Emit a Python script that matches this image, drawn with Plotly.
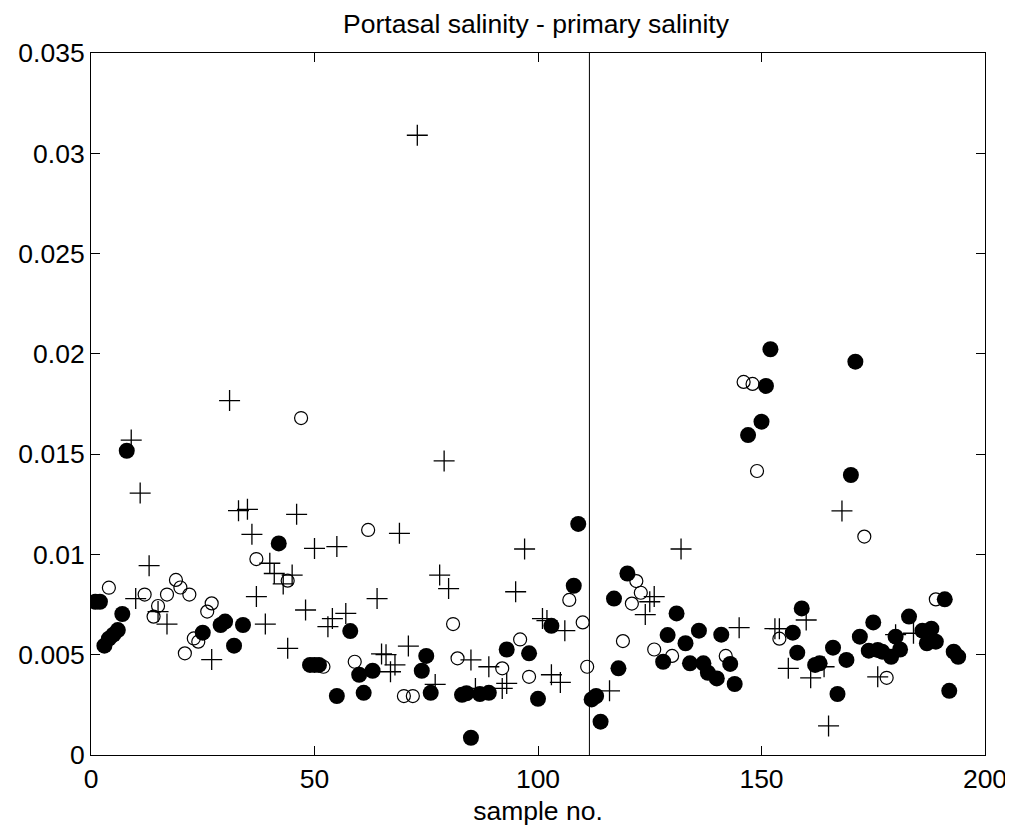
import plotly.graph_objects as go

# ---- data ----
filled_x = [1, 2, 3, 4, 5, 6, 7, 8, 25, 29, 30, 32, 34, 42, 49, 50, 51, 55, 58, 60, 61, 63,
            74, 75, 76, 83, 84, 85, 87, 89, 93, 98, 100, 103, 108, 109, 112, 113, 114, 117,
            118, 120, 128, 129, 131, 133, 134, 136, 137, 138, 140, 141, 143, 144, 147, 150,
            151, 152, 157, 158, 159, 162, 163, 166, 167, 169, 170, 171, 172, 174, 175, 176,
            177, 179, 180, 181, 183, 186, 187, 188, 189, 191, 192, 193, 194]
filled_y = [0.00764, 0.00764, 0.00545, 0.0058, 0.0060, 0.00623, 0.00703, 0.01517, 0.0061,
            0.00648, 0.00665, 0.00545, 0.00648, 0.01055, 0.00449, 0.00449, 0.00449, 0.00294,
            0.00618, 0.0040, 0.0031, 0.0042, 0.0042, 0.00494, 0.0031, 0.0030, 0.00308,
            0.00086, 0.00304, 0.0031, 0.00526, 0.00507, 0.0028, 0.00644, 0.00844, 0.01152,
            0.00277, 0.00294, 0.00166, 0.0078, 0.00432, 0.00905, 0.00465, 0.00598, 0.00706,
            0.00557, 0.00457, 0.0062, 0.00457, 0.0041, 0.00382, 0.0060, 0.00454, 0.00354,
            0.01595, 0.01662, 0.0184, 0.02023, 0.0061, 0.0051, 0.00731, 0.00449, 0.00457,
            0.00535, 0.00304, 0.00474, 0.01396, 0.01961, 0.0059, 0.0052, 0.00661, 0.00524,
            0.00515, 0.0049, 0.0059, 0.00526, 0.0069, 0.0062, 0.00557, 0.0063, 0.00565,
            0.00776, 0.0032, 0.00515, 0.0049]

open_x = [4, 12, 14, 15, 17, 19, 20, 21, 22, 23, 24, 26, 27, 37, 44, 47, 52, 59, 62, 70, 72,
          81, 82, 92, 96, 98, 107, 110, 111, 119, 121, 122, 123, 126, 130, 142, 146, 148,
          149, 154, 173, 178, 189]
open_y = [0.00834, 0.0080, 0.0069, 0.00743, 0.0080, 0.00873, 0.00835, 0.00507, 0.0080,
          0.00581, 0.00565, 0.00715, 0.00756, 0.00977, 0.00869, 0.0168, 0.0044, 0.00465,
          0.01122, 0.00294, 0.00294, 0.00653, 0.00482, 0.00432, 0.00576, 0.0039, 0.00773,
          0.00661, 0.0044, 0.00568, 0.00755, 0.00867, 0.00809, 0.00526, 0.00494, 0.00494,
          0.0186, 0.0185, 0.01416, 0.0058, 0.01089, 0.00385, 0.00776]

plus_x = [9, 10, 11, 13, 15, 17, 27, 31, 33, 35, 36, 37, 39, 40, 41, 43, 44, 45, 46, 48, 50,
          53, 54, 55, 57, 64, 65, 66, 67, 68, 69, 71, 73, 77, 78, 79, 80, 85, 86, 89, 92, 93,
          95, 97, 101, 102, 103, 105, 106, 116, 124, 125, 126, 132, 145, 153, 154, 156, 160,
          161, 164, 165, 168, 176, 180, 184]
plus_y = [0.0157, 0.0078, 0.01306, 0.00944, 0.00715, 0.00653, 0.00476, 0.01767, 0.01218,
          0.01225, 0.0110, 0.0079, 0.00653, 0.00956, 0.00905, 0.00853, 0.00532, 0.00897,
          0.0120, 0.00723, 0.0103, 0.0064, 0.0068, 0.01039, 0.00706, 0.0078, 0.00504, 0.0050,
          0.00415, 0.00449, 0.01105, 0.00543, 0.0309, 0.00352, 0.00897, 0.01466, 0.0083,
          0.00474, 0.00332, 0.0044, 0.00332, 0.00357, 0.00814, 0.01027, 0.0068, 0.0067,
          0.0040, 0.00362, 0.0062, 0.0032, 0.0070, 0.00764, 0.0079, 0.01027, 0.00635, 0.0063,
          0.0063, 0.00432, 0.00673, 0.00385, 0.0044, 0.00145, 0.01217, 0.0039, 0.0060, 0.00607]

divider_x = 111.5
x_ticks = [0, 50, 100, 150, 200]
y_ticks = [0, 0.005, 0.01, 0.015, 0.02, 0.025, 0.03, 0.035]
y_tick_labels = ["0", "0.005", "0.01", "0.015", "0.02", "0.025", "0.03", "0.035"]

FONT = "Liberation Sans, Arial, sans-serif"
FS = 26.5

fig = go.Figure()
fig.add_trace(go.Scatter(x=open_x, y=open_y, mode="markers", showlegend=False,
                         marker=dict(symbol="circle-open", size=13, color="black",
                                     line=dict(width=1.2, color="black"))))
fig.add_trace(go.Scatter(x=filled_x, y=filled_y, mode="markers", showlegend=False,
                         marker=dict(symbol="circle", size=16, color="black",
                                     line=dict(width=0))))
fig.add_trace(go.Scatter(x=plus_x, y=plus_y, mode="markers", showlegend=False,
                         marker=dict(symbol="cross-thin-open", size=15, color="black",
                                     line=dict(width=1.3, color="black"))))

fig.add_shape(type="line", xref="x", yref="paper", x0=divider_x, x1=divider_x, y0=0, y1=1,
              line=dict(color="black", width=1))

axis_common = dict(showline=True, linecolor="black", linewidth=1, mirror="ticks",
                   ticks="inside", ticklen=9, tickwidth=1, tickcolor="black",
                   showgrid=False, zeroline=False, automargin=False,
                   tickfont=dict(family=FONT, size=FS, color="black"))

W, H = 1005, 824
fig.update_layout(
    width=W, height=H,
    margin=dict(l=83, r=28, t=45, b=77),
    paper_bgcolor="white", plot_bgcolor="white",
    title=dict(text="Portasal salinity - primary salinity", x=(536 - 8) / W, xanchor="center",
               y=1 - (24 - 8) / H, yanchor="middle", yref="container", automargin=False,
               font=dict(family=FONT, size=FS, color="black")),
    xaxis=dict(range=[0, 200], tickvals=x_ticks, ticktext=[str(v) for v in x_ticks],
               title=dict(text="sample no.", font=dict(family=FONT, size=FS, color="black"),
                          standoff=8),
               **axis_common),
    yaxis=dict(range=[0, 0.035], tickvals=y_ticks, ticktext=y_tick_labels, **axis_common),
)

fig.write_html("out.html")
